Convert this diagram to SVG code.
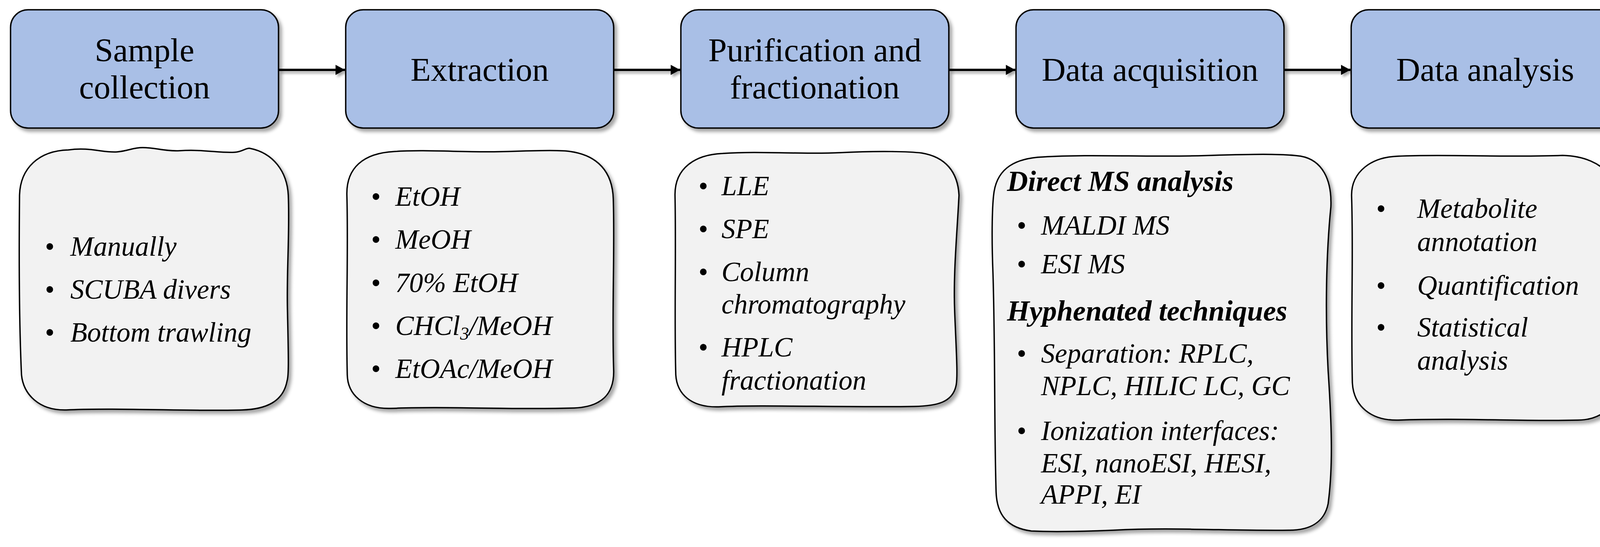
<svg xmlns="http://www.w3.org/2000/svg" width="4177" height="1401" viewBox="0 0 4177 1401">
<style>
.bg{fill:#ffffff}
.head{fill:#A9BFE6;stroke:#000;stroke-width:3.5}
.card{fill:#F2F2F2;stroke:#000;stroke-width:3.5;stroke-linejoin:round}
.title{font-family:"Liberation Serif",serif;font-size:85px;fill:#000;text-anchor:middle}
.item{font-family:"Liberation Serif",serif;font-size:71px;font-style:italic;fill:#000}
.bul{font-family:"Liberation Serif",serif;font-size:71px;fill:#000}
.hd{font-family:"Liberation Serif",serif;font-size:74px;font-style:italic;font-weight:bold;fill:#000}
.conn{stroke:#000;stroke-width:6;fill:none}
</style>
<defs>
<filter id="sh" x="-5%" y="-5%" width="115%" height="115%">
<feDropShadow dx="7" dy="8" stdDeviation="4" flood-color="#000" flood-opacity="0.35"/>
</filter>
<filter id="shc" filterUnits="userSpaceOnUse" x="0" y="0" width="4177" height="1401">
<feDropShadow dx="5" dy="6" stdDeviation="3" flood-color="#000" flood-opacity="0.35"/>
</filter>
<marker id="ah" markerUnits="userSpaceOnUse" markerWidth="26" markerHeight="26" refX="24" refY="13" orient="auto">
<path d="M0,0 L24,13 L0,26 Z" fill="#000"/>
</marker>
</defs>
<rect class="bg" x="0" y="0" width="4177" height="1401"/>

<g id="connectors" filter="url(#shc)">
<line class="conn" x1="714" y1="179" x2="883" y2="179" marker-end="url(#ah)"/>
<line class="conn" x1="1572" y1="179" x2="1741" y2="179" marker-end="url(#ah)"/>
<line class="conn" x1="2430" y1="179" x2="2599" y2="179" marker-end="url(#ah)"/>
<line class="conn" x1="3288" y1="179" x2="3457" y2="179" marker-end="url(#ah)"/>
</g>

<g id="step-sample-collection">
<rect class="head" filter="url(#sh)" x="27" y="25" width="686" height="303" rx="45"/>
<text class="title" x="370" y="157">Sample</text>
<text class="title" x="370" y="252">collection</text>
</g>
<g id="step-extraction">
<rect class="head" filter="url(#sh)" x="885" y="25" width="686" height="303" rx="45"/>
<text class="title" x="1228" y="207">Extraction</text>
</g>
<g id="step-purification">
<rect class="head" filter="url(#sh)" x="1743" y="25" width="686" height="303" rx="45"/>
<text class="title" x="2086" y="157">Purification and</text>
<text class="title" x="2086" y="252">fractionation</text>
</g>
<g id="step-data-acquisition">
<rect class="head" filter="url(#sh)" x="2601" y="25" width="686" height="303" rx="45"/>
<text class="title" x="2944" y="207">Data acquisition</text>
</g>
<g id="step-data-analysis">
<rect class="head" filter="url(#sh)" x="3459" y="25" width="686" height="303" rx="45"/>
<text class="title" x="3802" y="207">Data analysis</text>
</g>

<g id="card-sample-collection">
<path class="card" filter="url(#sh)" d="M175,384 C230,376 265,392 300,389 C330,386 340,378 365,378 C400,378 420,388 460,386 C520,382 560,392 600,390 C620,389 630,378 640,380 C700,392 735,440 738,500 C742,600 733,700 736,800 C738,900 740,960 735,975 C725,1030 680,1048 620,1050 C500,1054 300,1044 170,1050 C100,1052 60,1010 55,960 C50,850 48,700 50,500 C52,430 100,386 175,384 Z"/>
<text class="bul" x="115" y="655">•</text><text class="item" x="180" y="655">Manually</text>
<text class="bul" x="115" y="765">•</text><text class="item" x="180" y="765">SCUBA divers</text>
<text class="bul" x="115" y="875">•</text><text class="item" x="180" y="875">Bottom trawling</text>
</g>

<g id="card-extraction">
<path class="card" filter="url(#sh)" d="M1010,388 C1100,382 1200,392 1300,388 C1380,385 1440,384 1460,388 C1530,398 1568,440 1570,510 C1574,650 1566,800 1571,950 C1572,1010 1540,1042 1470,1045 C1300,1050 1150,1040 1000,1046 C930,1048 890,1010 889,960 C885,800 892,650 888,500 C886,430 930,392 1010,388 Z"/>
<text class="bul" x="950" y="527">•</text><text class="item" x="1012" y="527">EtOH</text>
<text class="bul" x="950" y="637">•</text><text class="item" x="1012" y="637">MeOH</text>
<text class="bul" x="950" y="748">•</text><text class="item" x="1012" y="748">70% EtOH</text>
<text class="bul" x="950" y="858">•</text><text class="item" x="1012" y="858">CHCl<tspan font-size="46" dy="12">3</tspan><tspan dy="-12">/MeOH</tspan></text>
<text class="bul" x="950" y="968">•</text><text class="item" x="1012" y="968">EtOAc/MeOH</text>
</g>

<g id="card-purification">
<path class="card" filter="url(#sh)" d="M1850,393 C1950,386 2050,396 2150,391 C2250,386 2330,388 2360,392 C2420,402 2452,440 2455,500 C2450,600 2440,700 2444,800 C2448,900 2452,960 2448,985 C2440,1030 2400,1040 2340,1041 C2150,1044 1950,1036 1840,1042 C1770,1044 1733,1010 1730,960 C1726,820 1731,650 1728,500 C1727,430 1780,396 1850,393 Z"/>
<text class="bul" x="1788" y="500">•</text><text class="item" x="1847" y="500">LLE</text>
<text class="bul" x="1788" y="610">•</text><text class="item" x="1847" y="610">SPE</text>
<text class="bul" x="1788" y="720">•</text><text class="item" x="1847" y="720">Column</text>
<text class="item" x="1847" y="803">chromatography</text>
<text class="bul" x="1788" y="913">•</text><text class="item" x="1847" y="913">HPLC</text>
<text class="item" x="1847" y="998">fractionation</text>
</g>

<g id="card-data-acquisition">
<path class="card" filter="url(#sh)" d="M2670,402 C2800,394 2950,404 3100,398 C3200,395 3280,393 3330,400 C3385,410 3410,460 3407,530 C3395,650 3392,800 3400,950 C3410,1100 3412,1200 3400,1290 C3390,1340 3350,1358 3300,1358 C3150,1360 3000,1350 2850,1358 C2750,1362 2680,1362 2640,1360 C2580,1352 2552,1320 2550,1260 C2545,1100 2548,900 2542,700 C2538,600 2540,520 2545,490 C2555,430 2600,405 2670,402 Z"/>
<text class="hd" x="2578" y="489">Direct MS analysis</text>
<text class="bul" x="2603" y="601">•</text><text class="item" x="2665" y="601">MALDI MS</text>
<text class="bul" x="2603" y="700">•</text><text class="item" x="2665" y="700">ESI MS</text>
<text class="hd" x="2578" y="821">Hyphenated techniques</text>
<text class="bul" x="2603" y="929">•</text><text class="item" x="2665" y="929">Separation: RPLC,</text>
<text class="item" x="2665" y="1012">NPLC, HILIC LC, GC</text>
<text class="bul" x="2603" y="1127">•</text><text class="item" x="2665" y="1127">Ionization interfaces:</text>
<text class="item" x="2665" y="1210">ESI, nanoESI, HESI,</text>
<text class="item" x="2665" y="1290">APPI, EI</text>
</g>

<g id="card-data-analysis">
<path class="card" filter="url(#sh)" d="M3580,400 C3700,394 3850,404 4000,398 C4080,400 4135,440 4143,500 C4148,650 4140,800 4145,950 C4148,1030 4110,1075 4040,1076 C3900,1080 3750,1070 3580,1076 C3510,1078 3465,1040 3462,980 C3458,800 3465,650 3460,500 C3460,440 3510,402 3580,400 Z"/>
<text class="bul" x="3523" y="558">•</text><text class="item" x="3628" y="558">Metabolite</text>
<text class="item" x="3628" y="643">annotation</text>
<text class="bul" x="3523" y="755">•</text><text class="item" x="3628" y="755">Quantification</text>
<text class="bul" x="3523" y="862">•</text><text class="item" x="3628" y="862">Statistical</text>
<text class="item" x="3628" y="947">analysis</text>
</g>
</svg>
